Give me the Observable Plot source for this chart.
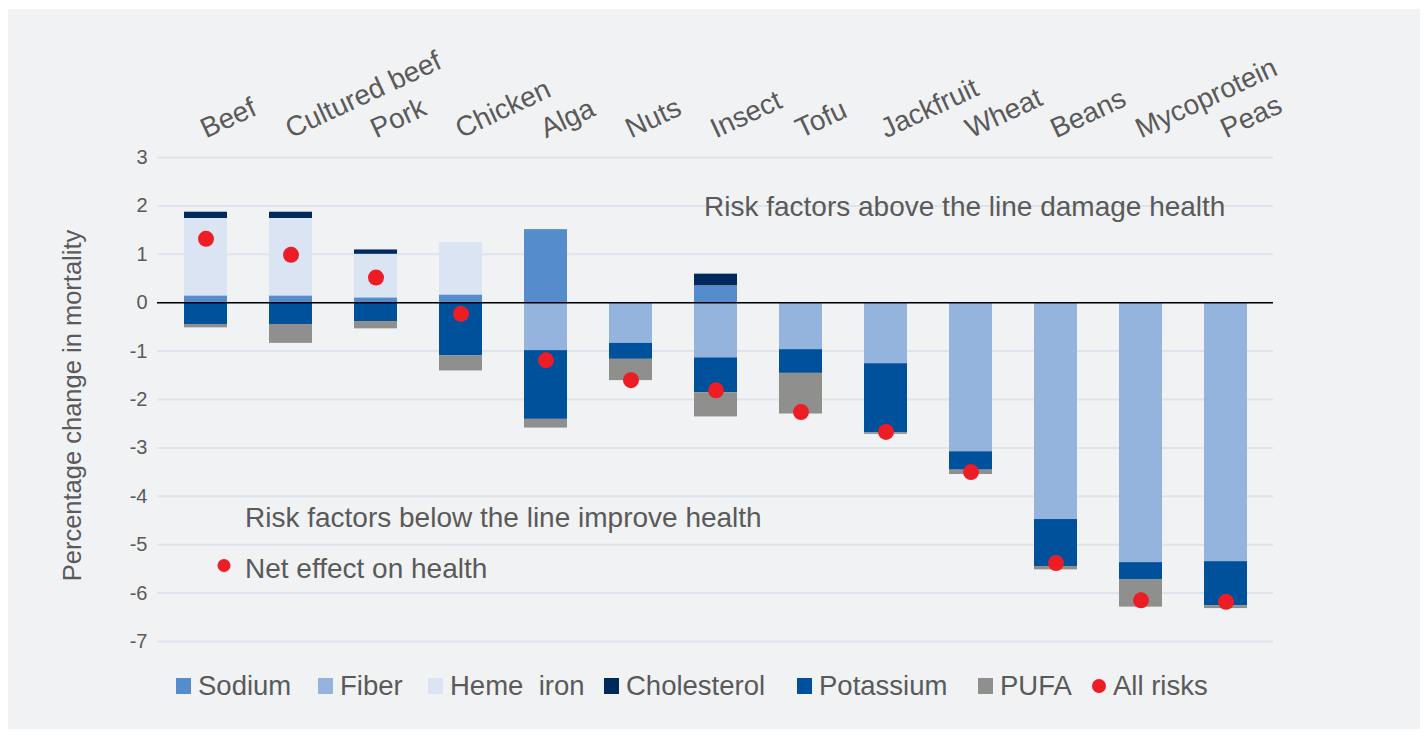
<!DOCTYPE html>
<html><head><meta charset="utf-8">
<script src="https://cdn.jsdelivr.net/npm/d3@7"></script>
<script src="https://cdn.jsdelivr.net/npm/@observablehq/plot@0.6"></script>
<style>
html,body{margin:0;padding:0;background:#fff;width:1428px;height:737px;overflow:hidden;font-family:"Liberation Sans",Arial,sans-serif;}
#panel{position:absolute;left:8px;top:9px;width:1412px;height:720px;background:#f1f2f4;}
#chart{position:absolute;left:0;top:0;}
#legend{position:absolute;top:671px;left:0;height:30px;width:1428px;}
.item{position:absolute;top:0;display:flex;align-items:center;height:30px;font-size:27.5px;color:#5a5a5a;white-space:pre;}
.sw{width:15px;height:16px;margin-right:7px;flex:none;}
.dotsw{width:14px;height:14px;border-radius:50%;margin-right:7px;flex:none;}
</style></head><body>
<div id="panel"></div><div id="chart"></div><div id="legend"></div>
<script>
const categories = ["Beef","Cultured beef","Pork","Chicken","Alga","Nuts","Insect","Tofu","Jackfruit","Wheat","Beans","Mycoprotein","Peas"];
const seriesNames = ["Sodium","Fiber","Heme  iron","Cholesterol","Potassium","PUFA"];
const seriesColors = ["#558ccb","#95b4dd","#dae4f3","#002a5c","#00519b","#8f8f8e"];
const sodium      = [0.14, 0.14, 0.10, 0.16, 1.51, 0, 0.35, 0, 0, 0, 0, 0, 0];
const fiber       = [0, 0, 0, 0, -0.99, -0.84, -1.14, -0.97, -1.26, -3.08, -4.48, -5.37, -5.35];
const hemeIron    = [1.60, 1.60, 0.90, 1.08, 0, 0, 0, 0, 0, 0, 0, 0, 0];
const cholesterol = [0.13, 0.13, 0.09, 0, 0, 0, 0.24, 0, 0, 0, 0, 0, 0];
const potassium   = [-0.45, -0.45, -0.39, -1.10, -1.42, -0.33, -0.72, -0.49, -1.43, -0.38, -0.97, -0.35, -0.91];
const pufa        = [-0.07, -0.39, -0.15, -0.31, -0.18, -0.44, -0.50, -0.84, -0.03, -0.09, -0.07, -0.57, -0.06];
const allRisks    = [1.32, 0.99, 0.52, -0.23, -1.19, -1.60, -1.81, -2.26, -2.67, -3.50, -5.38, -6.15, -6.18];
const yTicks = [3, 2, 1, 0, -1, -2, -3, -4, -5, -6, -7];
const yLabel = "Percentage change in mortality";
const aboveText = "Risk factors above the line damage health";
const belowText = "Risk factors below the line improve health";
const netText = "Net effect on health";
const allRisksName = "All risks";
const dotColor = "#ec1d25";

const seriesValues = [sodium, fiber, hemeIron, cholesterol, potassium, pufa];
const rows = [];
seriesNames.forEach((s, si) => {
  categories.forEach((c, ci) => {
    const v = seriesValues[si][ci];
    if (v !== 0) rows.push({category: c, series: s, value: v});
  });
});
const dots = categories.map((c, i) => ({category: c, value: allRisks[i]}));

const font = "Liberation Sans, Arial, sans-serif";
const txt = "#5a5a5a";
const chart = Plot.plot({
  width: 1428, height: 651,
  marginTop: 157, marginLeft: 157, marginRight: 155, marginBottom: 10,
  style: {background: "transparent", fontFamily: font, color: txt},
  x: {domain: categories, paddingInner: 0.5, paddingOuter: 0.25, axis: null},
  y: {domain: [-7, 3], axis: null},
  color: {domain: seriesNames, range: seriesColors},
  marks: [
    Plot.ruleY(yTicks, {stroke: "#dde4ec", strokeWidth: 2}),
    Plot.barY(rows, {x: "category", y: "value", fill: "series"}),
    Plot.ruleY([0], {stroke: "#000", strokeWidth: 1.5}),
    Plot.dot(dots, {x: "category", y: "value", r: 8, fill: dotColor, stroke: "none"}),
    Plot.axisY({ticks: yTicks, tickSize: 0, tickPadding: 10, fontSize: 20, tickFormat: d => String(d), label: null, fill: txt}),
    Plot.text([yLabel], {frameAnchor: "left", dx: -85, dy: 6, rotate: -90, textAnchor: "middle", lineAnchor: "middle", fontSize: 25.5, fill: txt}),
    Plot.text(categories, {x: d => d, frameAnchor: "top", dy: -19, rotate: -25, textAnchor: "start", lineAnchor: "bottom", fontSize: 28, fill: txt}),
    Plot.text([aboveText], {x: () => "Insect", y: () => 1.8, dx: -12, textAnchor: "start", lineAnchor: "bottom", fontSize: 28, fill: txt}),
    Plot.text([belowText], {x: () => "Beef", y: () => -4.64, dx: 39, textAnchor: "start", lineAnchor: "bottom", fontSize: 28, fill: txt}),
    Plot.text([netText], {x: () => "Beef", y: () => -5.68, dx: 39, textAnchor: "start", lineAnchor: "bottom", fontSize: 28, fill: txt}),
    Plot.dot([netText], {x: () => "Beef", y: () => -5.43, dx: 18, r: 6.5, fill: dotColor, stroke: "none"})
  ]
});
document.getElementById("chart").appendChild(chart);

const legendItems = seriesNames.map((s, i) => ({name: s, color: seriesColors[i], dot: false}))
  .concat([{name: allRisksName, color: dotColor, dot: true}]);
const legendLefts = [176, 318, 428, 604, 797, 978, 1092];
const legend = document.getElementById("legend");
legendItems.forEach((it, i) => {
  const d = document.createElement("div");
  d.className = "item";
  d.style.left = legendLefts[i] + "px";
  const sw = document.createElement("span");
  sw.className = it.dot ? "dotsw" : "sw";
  sw.style.background = it.color;
  const t = document.createElement("span");
  t.textContent = it.name;
  d.appendChild(sw); d.appendChild(t);
  legend.appendChild(d);
});
</script>
</body></html>
